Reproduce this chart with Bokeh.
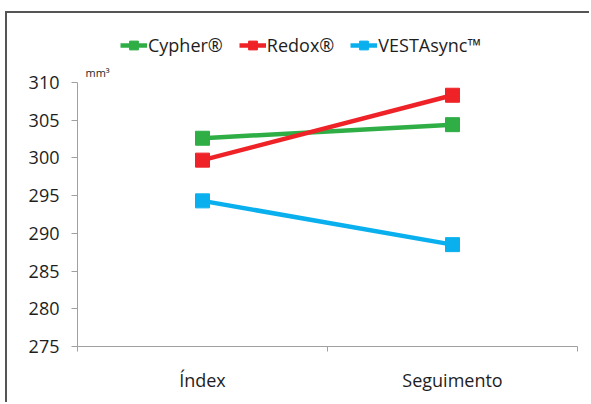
from bokeh.plotting import figure
from bokeh.models import Range1d, FixedTicker, Legend, LegendItem, Label
from bokeh.embed import file_html
from bokeh.resources import INLINE

categories = ["Índex", "Seguimento"]
series_names = ["Cypher®", "Redox®", "VESTAsync™"]
cypher = [302.6, 304.4]
redox = [299.7, 308.3]
vesta = [294.3, 288.5]
y_ticks = [275, 280, 285, 290, 295, 300, 305, 310]
colors = ["#2fae46", "#ee2227", "#0ab0ee"]

FONT = "Open Sans"

p = figure(width=584, height=391, output_backend="svg", toolbar_location=None,
           x_range=Range1d(0, len(categories)), y_range=Range1d(275, 319),
           min_border_left=70, min_border_right=14, min_border_bottom=58, min_border_top=1)
p.outline_line_color = None
p.grid.grid_line_color = None
p.styles = {"border-left": "2px solid #555555", "border-top": "2px solid #555555",
            "margin-left": "5px", "margin-top": "11px"}

xs = [i + 0.5 for i in range(len(categories))]
items = []
for name, vals, c in zip(series_names, [cypher, redox, vesta], colors):
    r1 = p.line(xs, vals, line_color=c, line_width=4.5)
    r2 = p.scatter(xs, vals, marker="square", size=14, fill_color=c, line_color=c)
    items.append(LegendItem(label=name, renderers=[r1, r2]))

legend = Legend(items=items, orientation="horizontal", location=(43, 289),
                margin=0, padding=0, spacing=16, glyph_width=27, glyph_height=22,
                label_text_font=FONT, label_text_font_size="18px", label_text_color="#1e1e1e",
                label_standoff=1, border_line_color=None, background_fill_alpha=0)
p.add_layout(legend, "center")

# x axis
p.xaxis.ticker = FixedTicker(ticks=xs, minor_ticks=list(range(len(categories) + 1)))
p.xaxis.major_label_overrides = {x: c for x, c in zip(xs, categories)}
p.xaxis.major_tick_line_color = None
p.xaxis.minor_tick_line_color = "#a0a0a0"
p.xaxis.minor_tick_out = 5
p.xaxis.minor_tick_in = 0
p.xaxis.axis_line_color = "#a0a0a0"
p.xaxis.major_label_text_font = FONT
p.xaxis.major_label_text_font_size = "18px"
p.xaxis.major_label_text_color = "#1e1e1e"
p.xaxis.major_label_standoff = 15

# y axis
p.yaxis.ticker = FixedTicker(ticks=y_ticks)
p.yaxis.bounds = (y_ticks[0], y_ticks[-1])
p.yaxis.minor_tick_line_color = None
p.yaxis.major_tick_out = 6
p.yaxis.major_tick_in = 0
p.yaxis.major_tick_line_color = "#a0a0a0"
p.yaxis.axis_line_color = "#a0a0a0"
p.yaxis.major_label_text_font = FONT
p.yaxis.major_label_text_font_size = "18px"
p.yaxis.major_label_text_color = "#1e1e1e"
p.yaxis.major_label_standoff = 12

unit = Label(x=0, y=y_ticks[-1], x_offset=8, y_offset=2, text="mm³", text_font=FONT,
             text_font_size="11px", text_color="#1e1e1e")
p.add_layout(unit)

open("out.html", "w").write(file_html(p, INLINE))
